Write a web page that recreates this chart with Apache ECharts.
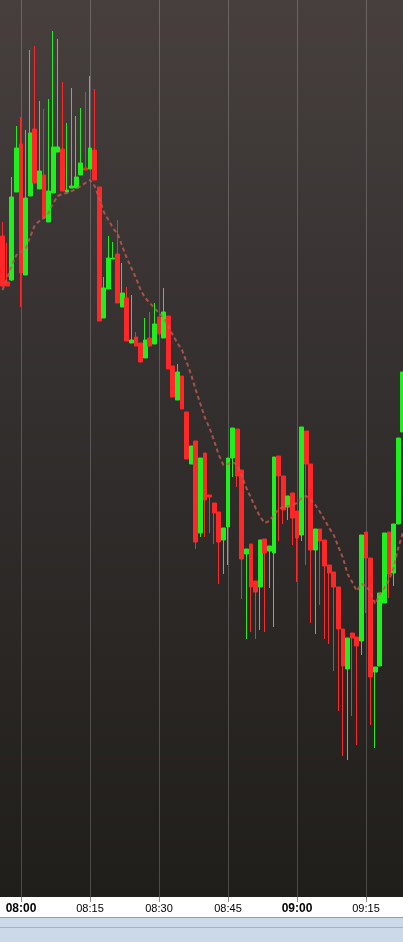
<!DOCTYPE html>
<html>
<head>
<meta charset="utf-8">
<script src="https://cdn.jsdelivr.net/npm/echarts@6/dist/echarts.min.js"></script>
<style>html,body{margin:0;padding:0;background:#fff}#c{width:403px;height:942px}</style>
</head>
<body>
<div id="c"></div>
<script>
const times = [
'07:56','07:57','07:58','07:59',
'08:00','08:01','08:02','08:03','08:04','08:05','08:06','08:07','08:08','08:09',
'08:10','08:11','08:12','08:13','08:14','08:15','08:16','08:17','08:18','08:19',
'08:20','08:21','08:22','08:23','08:24','08:25','08:26','08:27','08:28','08:29',
'08:30','08:31','08:32','08:33','08:34','08:35','08:36','08:37','08:38','08:39',
'08:40','08:41','08:42','08:43','08:44','08:45','08:46','08:47','08:48','08:49',
'08:50','08:51','08:52','08:53','08:54','08:55','08:56','08:57','08:58','08:59',
'09:00','09:01','09:02','09:03','09:04','09:05','09:06','09:07','09:08','09:09',
'09:10','09:11','09:12','09:13','09:14','09:15','09:16','09:17','09:18','09:19',
'09:20','09:21','09:22','09:23'];

const opens = [
764,718,720,808,856,725,804,871,811,825,
778,807,848,851,808,812,812,825,832,831,
850,813,682,711,741,746,693,702,657,663,
657,642,662,656,683,662,684,634,600,624,
588,536,559,467,547,505,497,488,460,473,
542,571,530,446,456,419,413,461,449,447,
544,524,493,507,489,465,569,536,450,471,
460,435,428,413,371,331,367,363,359,468,
442,328,334,397,468,427,476,568];

const closes = [
714,714,803,852,727,802,867,817,829,782,
809,853,853,809,810,814,823,837,830,852,
820,679,712,742,742,697,707,659,660,654,
638,660,654,676,666,688,631,603,628,591,
541,554,458,542,500,503,487,458,472,542,
572,524,441,451,413,408,460,447,454,543,
524,490,504,482,462,573,536,450,471,459,
434,427,413,371,334,362,362,354,465,442,
323,333,407,467,426,476,562,628];

const lows = [
713,714,719,808,693,725,804,817,811,782,
778,807,848,809,808,812,812,825,830,831,
820,679,682,711,741,697,693,659,657,654,
638,642,654,656,666,662,631,603,600,591,
541,536,451,463,463,467,456,416,426,435,
523,513,401,361,368,361,370,368,412,373,
459,476,480,455,418,459,435,377,366,395,
361,356,329,289,244,240,284,255,345,387,
275,252,334,397,402,414,476,568];

const highs = [
778,757,823,874,883,870,950,954,899,891,
901,969,961,918,877,912,884,892,908,924,
911,813,723,764,758,780,737,713,705,668,
657,682,688,697,683,712,684,634,636,624,
588,554,559,542,547,505,497,488,472,542,
572,571,530,451,456,419,460,461,454,543,
544,524,504,507,489,573,569,536,471,471,
460,435,428,413,371,362,367,363,465,468,
442,333,407,467,468,476,562,628];

const maLine = [
710,722,735,745,748,751,763,775,779,782,
787,797,804,806,807,809,811,814,817,820,
814,802,788,780,772,766,754,742,732,722,
710,702,697,692,687,682,674,665,657,650,
638,625,610,596,582,572,559,545,535,536,
538,535,524,512,502,492,483,477,479,485,
491,493,494,495,497,502,504,500,495,488,
480,472,465,453,442,426,418,409,416,414,
408,396,406,412,420,432,452,467];

const candleData = times.map((t, i) => [opens[i], closes[i], lows[i], highs[i]]);
const isQuarter = (v) => parseInt(String(v).slice(3), 10) % 15 === 0;
const every15 = (idx, v) => isQuarter(v);

const chart = echarts.init(document.getElementById('c'), null, {renderer: 'canvas'});
chart.setOption({
  animation: false,
  backgroundColor: '#ffffff',
  graphic: [
    {type: 'rect', silent: true, z: -100, shape: {x: 0, y: 0, width: 403, height: 897},
     style: {fill: new echarts.graphic.LinearGradient(0, 0, 0, 1, [
       {offset: 0, color: '#463f3e'},
       {offset: 0.45, color: '#332f2e'},
       {offset: 1, color: '#201e1b'}])}},
    {type: 'rect', silent: true, z: -100, shape: {x: 0, y: 897, width: 403, height: 20}, style: {fill: '#ffffff'}},
    {type: 'rect', silent: true, z: -100, shape: {x: 0, y: 917, width: 403, height: 25}, style: {fill: '#cbd9e9'}},
    {type: 'line', silent: true, z: -99, shape: {x1: 0, y1: 917.5, x2: 403, y2: 917.5}, style: {stroke: '#9c9c9c', lineWidth: 1}},
    {type: 'line', silent: true, z: -99, shape: {x1: 0, y1: 927.5, x2: 403, y2: 927.5}, style: {stroke: '#a9b3bf', lineWidth: 1}}
  ],
  grid: {left: 2.6, top: 0, width: 400.2, height: 897},
  xAxis: {
    type: 'category',
    data: times,
    boundaryGap: false,
    axisLine: {show: false},
    axisTick: {show: true, interval: every15, length: 5, lineStyle: {color: '#8c8c8c'}},
    splitLine: {show: true, interval: every15, lineStyle: {color: 'rgba(255,255,255,0.2)', width: 1}},
    axisLabel: {
      interval: every15, margin: 6, color: '#000', fontSize: 11,
      fontFamily: 'Liberation Sans, Arial, sans-serif',
      formatter: (v) => v.endsWith(':00') ? '{b|' + v + '}' : '{n|' + v + '}',
      rich: {
        b: {fontWeight: 'bold', fontSize: 12, color: '#000', fontFamily: 'Liberation Sans, Arial, sans-serif'},
        n: {fontSize: 11, color: '#000', fontFamily: 'Liberation Sans, Arial, sans-serif'}
      }
    }
  },
  yAxis: {type: 'value', min: 103, max: 1000, show: false, splitLine: {show: false}},
  series: [
    {
      type: 'candlestick',
      data: candleData,
      barWidth: 4.4,
      clip: false,
      silent: true,
      itemStyle: {color: '#1df01d', color0: '#ff2727', borderColor: '#1df01d', borderColor0: '#ff2727', borderWidth: 1}
    },
    {
      type: 'line',
      data: maLine,
      symbol: 'none',
      silent: true,
      z: 3,
      lineStyle: {color: 'rgba(195,90,80,0.8)', width: 2, type: [4, 3]}
    }
  ]
});
</script>
</body>
</html>
